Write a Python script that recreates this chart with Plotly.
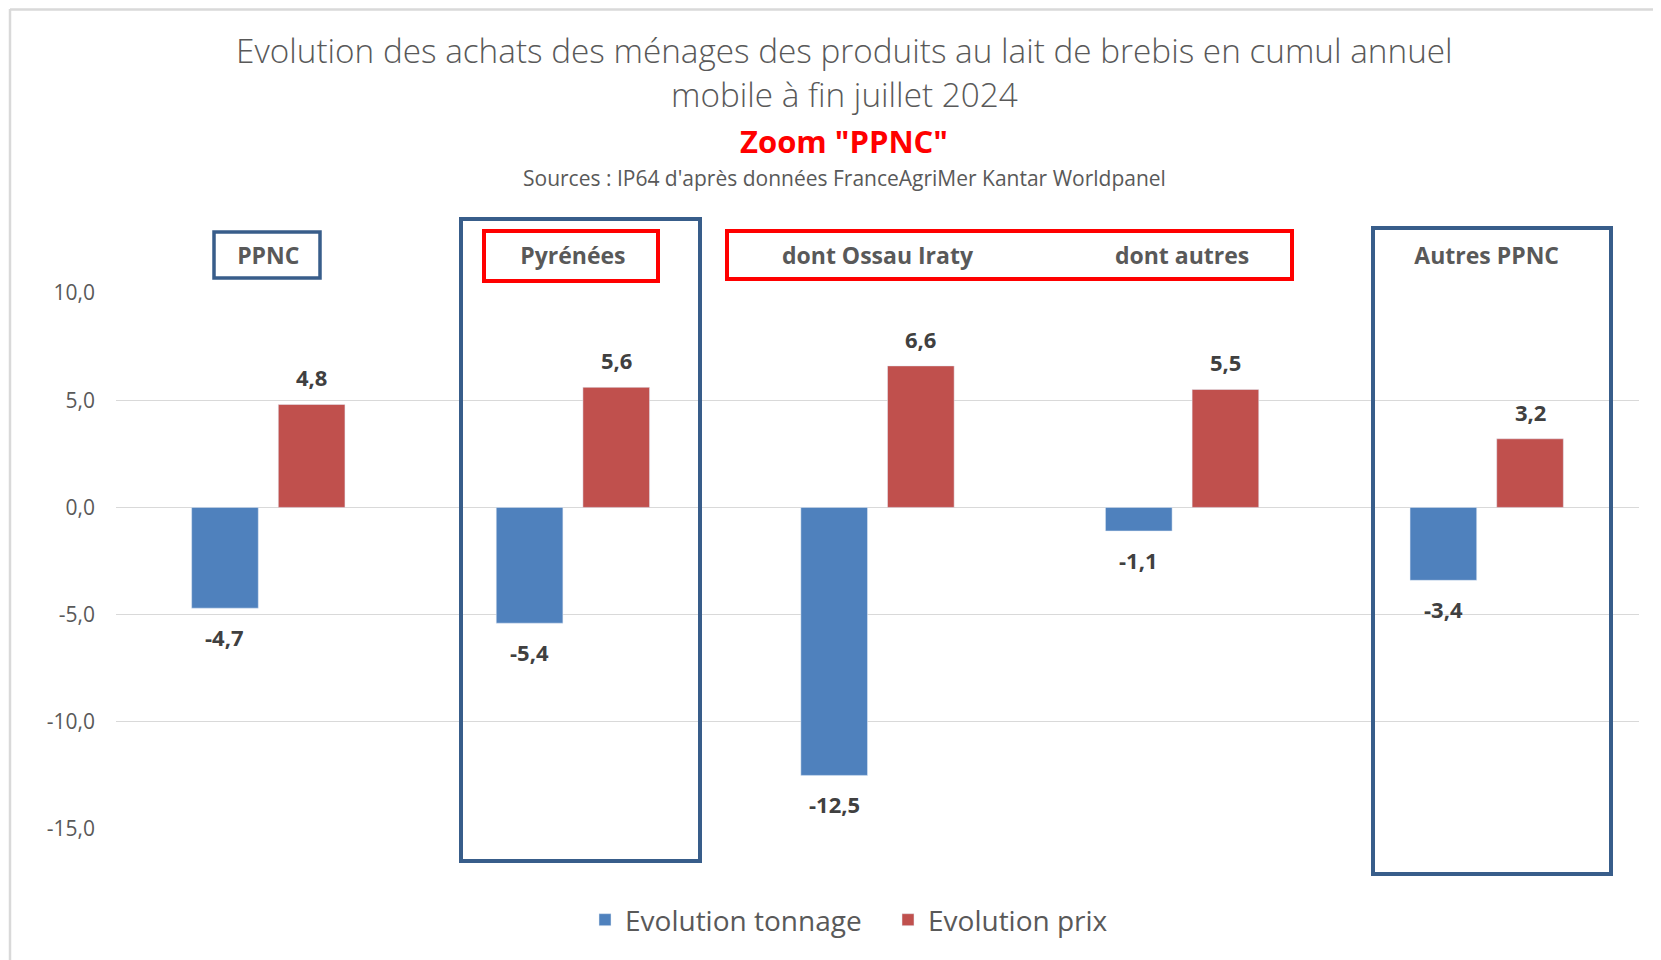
import plotly.graph_objects as go

categories = ["PPNC", "Pyrénées", "dont Ossau Iraty", "dont autres", "Autres PPNC"]
tonnage = [-4.7, -5.4, -12.5, -1.1, -3.4]
prix = [4.8, 5.6, 6.6, 5.5, 3.2]
y_ticks = [-15, -10, -5, 0, 5, 10]
y_labels = ["-15,0", "-10,0", "-5,0", "0,0", "5,0", "10,0"]

BLUE = "#4F81BD"
RED = "#C0504D"
NAVY = "#385D8A"
GREY = "#595959"
FONT = "Open Sans"

# la page html ajoute une marge de 8px autour de la figure
W, H = 1653, 952
L, R, T, B = 108, 22, 285, 131
PX0, PX1, PY0, PY1 = 116, 1639, 293, 829   # zone de tracé à l'écran


def xp(px):
    return (px - PX0) / (PX1 - PX0)


def yp(py):
    return (PY1 - py) / (PY1 - PY0)


def texte(fig, x, y, txt, size, color=GREY, weight="normal"):
    fig.add_annotation(xref="paper", yref="paper", x=xp(x), y=yp(y), text=txt,
                       showarrow=False, xanchor="center", yanchor="middle",
                       font=dict(family=FONT, size=size, color=color, weight=weight))


def main():
    fig = go.Figure()
    fig.add_trace(go.Bar(x=categories, y=tonnage, name="Evolution tonnage",
                         marker=dict(color=BLUE)))
    fig.add_trace(go.Bar(x=categories, y=prix, name="Evolution prix",
                         marker=dict(color=RED)))

    # etiquettes de valeurs
    for serie, dx in ((tonnage, -43.4), (prix, 43.4)):
        for cat, v in zip(categories, serie):
            fig.add_annotation(x=cat, y=v, text=f"{v:.1f}".replace(".", ","),
                               showarrow=False, xshift=dx, xanchor="center", yanchor="middle",
                               yshift=27 if v > 0 else -29,
                               font=dict(family=FONT, size=22, color="#404040", weight="bold"))

    # titres
    texte(fig, 844, 50, "Evolution des achats des ménages des produits au lait de brebis en cumul annuel",
          33.3, weight=300)
    texte(fig, 844, 94, "mobile à fin juillet 2024", 33.3, weight=300)
    texte(fig, 844, 141, 'Zoom "PPNC"', 31, color="#FF0000", weight="bold")
    texte(fig, 844, 178, "Sources : IP64 d'après données FranceAgriMer Kantar Worldpanel", 21)

    # cadres
    boxes = [
        (214, 232, 320, 278, NAVY, 3.5),
        (461, 219, 700, 861, NAVY, 4),
        (484, 231, 658, 281, "#FF0000", 4),
        (727, 231, 1292, 279, "#FF0000", 4),
        (1373, 228, 1611, 874, NAVY, 4),
    ]
    for x0, y0, x1, y1, col, w in boxes:
        fig.add_shape(type="rect", xref="paper", yref="paper",
                      x0=xp(x0), x1=xp(x1), y0=yp(y1), y1=yp(y0),
                      line=dict(color=col, width=w), layer="above")

    # bordure du graphique
    fig.add_shape(type="line", xref="paper", yref="paper",
                  x0=xp(10), x1=xp(10), y0=yp(970), y1=yp(9),
                  line=dict(color="#D9D9D9", width=2.5))
    fig.add_shape(type="line", xref="paper", yref="paper",
                  x0=xp(10), x1=xp(1670), y0=yp(9.5), y1=yp(9.5),
                  line=dict(color="#D9D9D9", width=2.5))

    fig.update_layout(
        width=W, height=H,
        margin=dict(l=L, r=R, t=T, b=B),
        paper_bgcolor="white", plot_bgcolor="white",
        barmode="group", bargap=0.431, bargroupgap=0.231,
        font=dict(family=FONT, color=GREY),
        legend=dict(orientation="h", x=xp(888), y=yp(920), xanchor="center", yanchor="middle",
                    entrywidth=258, entrywidthmode="pixels",
                    font=dict(family=FONT, size=28, color=GREY)),
        xaxis=dict(side="top", showgrid=False, showline=False, ticks="",
                   automargin=False, ticklabelstandoff=23,
                   tickfont=dict(family=FONT, size=23, color=GREY, weight="bold")),
        yaxis=dict(range=[-15, 10], tickvals=y_ticks, ticktext=y_labels,
                   automargin=False,
                   showgrid=True, gridcolor="#D9D9D9", gridwidth=1.3,
                   zeroline=True, zerolinecolor="#D9D9D9", zerolinewidth=1.3,
                   showline=False, ticks="", ticklabelstandoff=20,
                   tickfont=dict(family=FONT, size=21, color=GREY)),
    )
    fig.write_html("out.html")


if __name__ == "__main__":
    main()
